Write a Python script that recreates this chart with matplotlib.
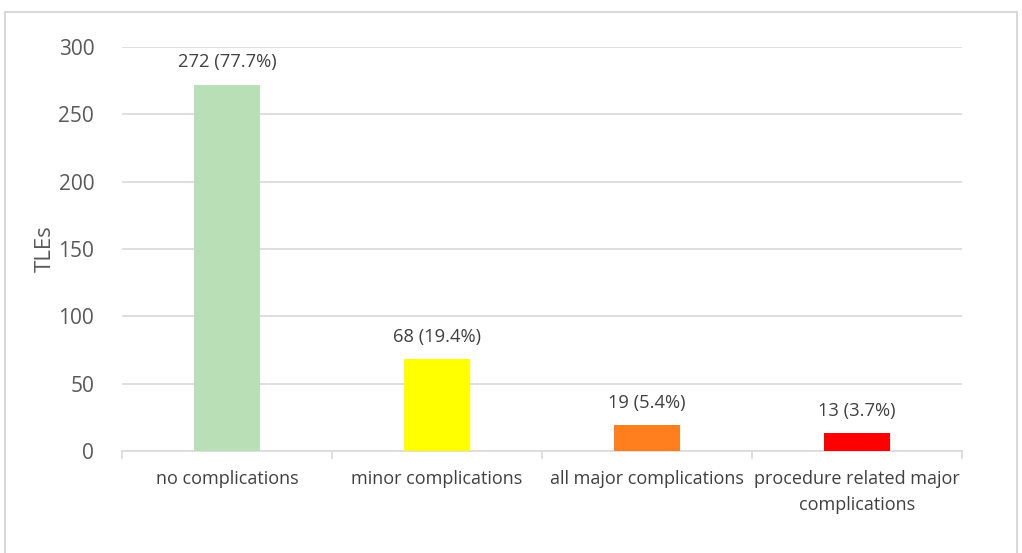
import matplotlib.pyplot as plt
from matplotlib.patches import Rectangle

plt.rcParams['font.family'] = ['Open Sans', 'DejaVu Sans']

# data
categories = ["no complications", "minor complications", "all major complications",
              "procedure related major\ncomplications"]
values = [272, 68, 19, 13]
labels = ["272 (77.7%)", "68 (19.4%)", "19 (5.4%)", "13 (3.7%)"]
colors = ["#b8dfb5", "#ffff00", "#ff7f1e", "#ff0000"]

fig = plt.figure(figsize=(10.22, 5.53), dpi=100)
ax = fig.add_axes([122 / 1022, 102 / 553, 840 / 1022, 404 / 553])

# outer chart frame
fig.patches.append(Rectangle((5 / 1022, -0.05), 1012 / 1022, 1.05 - 12 / 553,
                             transform=fig.transFigure, fill=False,
                             edgecolor="#d9d9d9", linewidth=1.5))

x = list(range(len(values)))
ax.bar(x, values, width=0.315, color=colors, zorder=3)

for xi, v, lab in zip(x, values, labels):
    ax.annotate(lab, (xi, v), xytext=(0, 10), textcoords="offset points",
                ha="center", va="bottom", fontsize=13.2, color="#404040")

ax.set_xlim(-0.5, 3.5)
ax.set_ylim(0, 300)
ax.set_yticks(range(0, 301, 50))
ax.grid(axis="y", color="#d9d9d9", linewidth=1.2, zorder=0)

ax.set_xticks(x)
ax.set_xticklabels(categories, fontsize=13, color="#404040", linespacing=1.55)
ax.set_xticks([-0.5, 0.5, 1.5, 2.5, 3.5], minor=True)
ax.tick_params(axis="x", which="major", length=0, pad=14)
ax.tick_params(axis="x", which="minor", length=6, color="#d9d9d9", width=1.2)
ax.tick_params(axis="y", length=0, labelsize=15, labelcolor="#595959", pad=20)

for s in ["top", "right", "left"]:
    ax.spines[s].set_visible(False)
ax.spines["bottom"].set_color("#d9d9d9")
ax.spines["bottom"].set_linewidth(1.2)

ax.set_ylabel("TLEs", fontsize=16, color="#595959", labelpad=2)

fig.savefig("out.png", dpi=100)
